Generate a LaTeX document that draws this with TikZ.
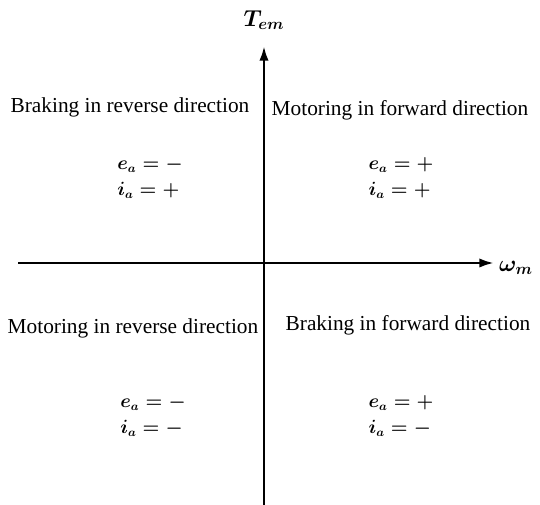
\documentclass[tikz,border=0pt]{standalone}
\usepackage{fontspec}
\setmainfont{Liberation Serif}
\usepackage{tikz}
\usetikzlibrary{arrows.meta, positioning}

\begin{document}
\begin{tikzpicture}[
        x=0.75pt, y=-0.75pt,
        every node/.style={font=\fontsize{16}{18}\selectfont},
        axis/.style={line width=2pt, -{Latex[length=11pt, width=7pt]}},
        quad/.style={inner sep=1pt},
        sign/.style={align=left, inner sep=1pt, font=\fontsize{13.5}{16}\selectfont\boldmath},
        axlabel/.style={inner sep=1pt, font=\fontsize{17}{19}\selectfont\boldmath}
        ]
        \useasboundingbox (0,0) rectangle (540,505);
        % Axes
        \coordinate (xs) at (18,263);
        \coordinate (xe) at (494,263);
        \coordinate (ys) at (264,505);
        \coordinate (ye) at (264,46);
        \draw[axis] (xs) -- (xe);
        \draw[axis] (ys) -- (ye);
        \node[axlabel] (T) at (264,20) {$T_{em}$};
        \node[axlabel] (w) at (516,268) {$\omega_m$};

        % Quadrant labels
        \node[quad] (BR) at (130,107) {Braking in reverse direction};
        \node[quad] (MF) at (400,110) {Motoring in forward direction};
        \node[quad] (MR) at (133,328) {Motoring in reverse direction};
        \node[quad] (BF) at (408,325) {Braking in forward direction};

        % Signs
        \node[sign] (s2) at (150,178) {$e_a = -$\\[3pt] $i_a = +$};
        \node[sign] (s1) at (401,178) {$e_a = +$\\[3pt] $i_a = +$};
        \node[sign] (s3) at (153,416) {$e_a = -$\\[3pt] $i_a = -$};
        \node[sign] (s4) at (401,416) {$e_a = +$\\[3pt] $i_a = -$};
    \end{tikzpicture}
\end{document}
